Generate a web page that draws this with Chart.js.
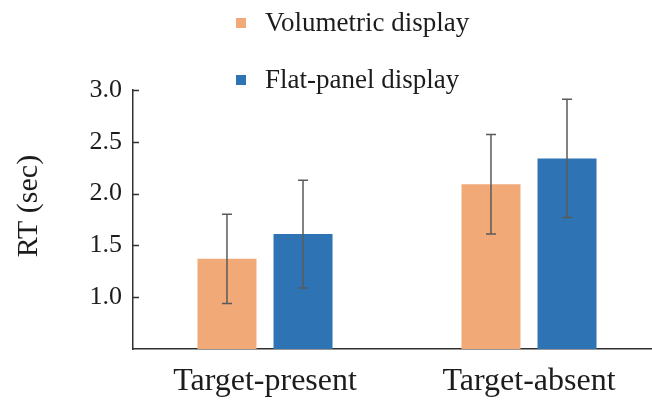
<!DOCTYPE html>
<html>
<head>
<meta charset="utf-8">
<script src="https://cdn.jsdelivr.net/npm/chart.js@4/dist/chart.umd.min.js"></script>
<style>
  html, body { margin: 0; padding: 0; background: #ffffff; overflow: hidden; }
  #wrap { width: 652px; height: 400px; overflow: hidden; }
  canvas { display: block; }
</style>
</head>
<body>
<div id="wrap"><canvas id="rt" width="665" height="400"></canvas></div>
<script>
// Conditions on the category axis
const categories = ['Target-present', 'Target-absent'];

// Mean response time (sec) and error bar half-lengths per display type
const volumetricRT = [1.37, 2.09];
const volumetricErr = [0.43, 0.48];
const flatPanelRT = [1.61, 2.34];
const flatPanelErr = [0.52, 0.57];

// Labelled y ticks
const yTicks = [1.0, 1.5, 2.0, 2.5, 3.0];

const seriesNames = ['Volumetric display', 'Flat-panel display'];
const seriesColors = ['#F2A978', '#2E74B5'];
const serif = "'Liberation Serif', 'Times New Roman', serif";
const inkColor = '#1c1c1c';
const axisColor = '#303030';

// Error bars, inward y ticks, the vertical axis title and the stacked legend
const decorations = {
  id: 'decorations',
  afterDatasetsDraw(chart) {
    const ctx = chart.ctx;
    const y = chart.scales.y;
    const errs = [volumetricErr, flatPanelErr];
    ctx.save();
    ctx.strokeStyle = '#5a5a5a';
    ctx.lineWidth = 1.5;
    chart.data.datasets.forEach((ds, di) => {
      const meta = chart.getDatasetMeta(di);
      meta.data.forEach((bar, i) => {
        const v = ds.data[i];
        const e = errs[di][i];
        const yTop = y.getPixelForValue(v + e);
        const yBot = y.getPixelForValue(v - e);
        const x = bar.x;
        ctx.beginPath();
        ctx.moveTo(x, yTop); ctx.lineTo(x, yBot);
        ctx.moveTo(x - 5, yTop); ctx.lineTo(x + 5, yTop);
        ctx.moveTo(x - 5, yBot); ctx.lineTo(x + 5, yBot);
        ctx.stroke();
      });
    });
    ctx.restore();
  },
  afterDraw(chart) {
    const ctx = chart.ctx;
    const y = chart.scales.y;
    const left = chart.chartArea.left;
    ctx.save();
    // short tick marks pointing into the plot
    ctx.strokeStyle = axisColor;
    ctx.lineWidth = 1.5;
    yTicks.forEach(v => {
      const py = Math.round(y.getPixelForValue(v)) + 0.5;
      ctx.beginPath();
      ctx.moveTo(left, py);
      ctx.lineTo(left + 6, py);
      ctx.stroke();
    });
    // y axis title
    ctx.fillStyle = inkColor;
    ctx.font = '30px ' + serif;
    ctx.textAlign = 'center';
    ctx.textBaseline = 'middle';
    ctx.translate(29, 206);
    ctx.rotate(-Math.PI / 2);
    ctx.fillText('RT (sec)', 0, 0);
    ctx.restore();

    // legend, one entry per row
    ctx.save();
    ctx.font = '27px ' + serif;
    ctx.textAlign = 'left';
    ctx.textBaseline = 'middle';
    const rows = [23, 80];
    chart.data.datasets.forEach((ds, di) => {
      const cy = rows[di];
      ctx.fillStyle = ds.backgroundColor;
      ctx.fillRect(236, cy - 5, 10, 10);
      ctx.fillStyle = inkColor;
      ctx.fillText(ds.label, 265, cy + 1);
    });
    ctx.restore();
  }
};

new Chart(document.getElementById('rt'), {
  type: 'bar',
  data: {
    labels: categories,
    datasets: [
      { label: seriesNames[0], data: volumetricRT, backgroundColor: seriesColors[0] },
      { label: seriesNames[1], data: flatPanelRT, backgroundColor: seriesColors[1] }
    ]
  },
  options: {
    responsive: false,
    animation: false,
    devicePixelRatio: 1,
    layout: { padding: { top: 90, right: 4, bottom: 0, left: 0 } },
    datasets: {
      bar: { categoryPercentage: 0.576, barPercentage: 0.776 }
    },
    plugins: {
      legend: { display: false },
      tooltip: { enabled: false }
    },
    scales: {
      x: {
        grid: { display: false, drawTicks: false },
        border: { display: true, color: axisColor, width: 1.5 },
        ticks: {
          padding: 13,
          color: inkColor,
          font: { family: serif, size: 32 },
          maxRotation: 0
        },
        afterFit(scale) { scale.height = 51; }
      },
      y: {
        min: 0.5,
        max: 3.0,
        grid: { display: false, drawTicks: false },
        border: { display: true, color: axisColor, width: 1.5 },
        afterBuildTicks(scale) { scale.ticks = yTicks.map(v => ({ value: v })); },
        ticks: {
          padding: 11,
          color: inkColor,
          font: { family: serif, size: 26 },
          callback: v => Number(v).toFixed(1)
        },
        afterFit(scale) { scale.width = 133; }
      }
    }
  },
  plugins: [decorations]
});
</script>
</body>
</html>
